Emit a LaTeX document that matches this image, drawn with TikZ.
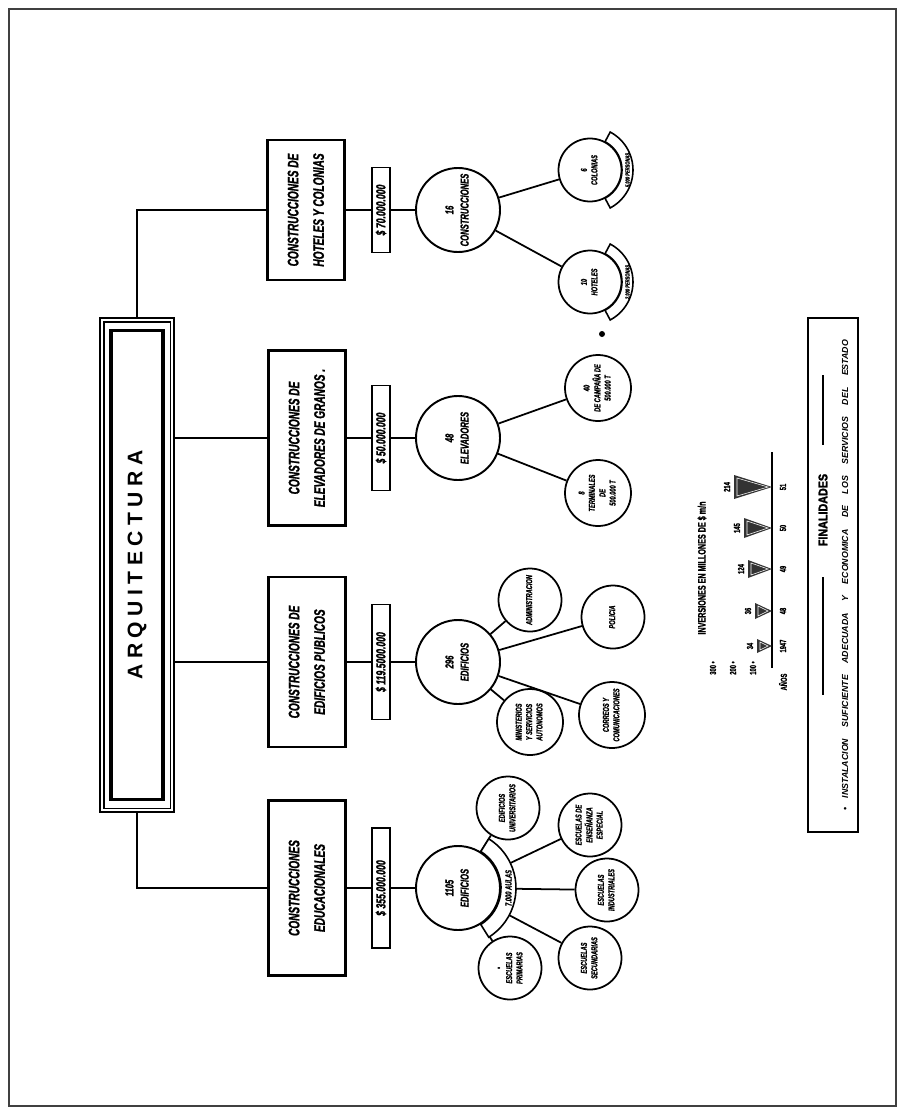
\documentclass[tikz,border=0pt]{standalone}
\usepackage{graphicx}
\usepackage{fontspec}
\setmainfont{Liberation Sans}
\newfontfamily\handfont{Liberation Sans}[FakeStretch=0.66, FakeBold=1.2]
\newfontfamily\headfont{Liberation Sans}[FakeStretch=0.85, FakeBold=2]
\newfontfamily\titlefont{Liberation Sans}[LetterSpace=26]
\usetikzlibrary{calc, positioning}

% vertical (rotated) multi-line text
\newcommand{\vtext}[1]{\rotatebox{90}{\begin{tabular}{@{}c@{}}#1\end{tabular}}}

\tikzset{
  catbox/.style={draw, line width=1.3pt, minimum width=15.4mm, inner sep=0pt,
    font=\handfont\bfseries\itshape\fontsize{8.7}{14.5}\selectfont},
  amtbox/.style={draw, line width=1.1pt, minimum width=3.6mm, inner sep=0pt,
    font=\handfont\bfseries\itshape\fontsize{7.5}{9}\selectfont},
  bigc/.style={circle, draw, line width=1.1pt, minimum size=16.8mm, inner sep=0pt},
  smallc/.style={circle, draw, line width=1pt, minimum size=12.6mm, inner sep=0pt},
  bigtxt/.style={inner sep=0pt, font=\handfont\bfseries\itshape\fontsize{6.6}{8.6}\selectfont},
  smalltxt/.style={inner sep=0pt, font=\handfont\bfseries\itshape\fontsize{4.9}{5.9}\selectfont},
  bandtxt/.style={inner sep=0pt, font=\handfont\bfseries\itshape\fontsize{3.5}{4}\selectfont},
  charttxt/.style={inner sep=0pt, font=\handfont\bfseries\fontsize{5}{6}\selectfont},
  band/.style={draw, fill=white, line width=0.9pt},
  link/.style={line width=1pt}
}

\begin{document}
\begin{tikzpicture}[x=0.2mm, y=-0.2mm]
\useasboundingbox (0,0) rectangle (905,1114);
\fill[white] (0,0) rectangle (905,1114);
\draw[line width=1.2pt, black!75] (9,9) rectangle (896,1106);

% main title block with its frames
\node[draw, line width=0.8pt, minimum width=14.8mm, minimum height=98.8mm, inner sep=0pt] (arq) at (137,565)
  {\rotatebox{90}{\titlefont\bfseries\fontsize{12}{14}\selectfont ARQUITECTURA}};
\draw[line width=0.8pt] ($(arq.south west)+(0.9mm,0.9mm)$) rectangle ($(arq.north east)-(0.9mm,0.9mm)$);
\draw[line width=2pt] ($(arq.south west)+(2.3mm,2.6mm)$) rectangle ($(arq.north east)-(2.3mm,2.6mm)$);

% first level
\node[catbox, minimum height=28mm] (hot) at (306,210) {\vtext{CONSTRUCCIONES DE\\HOTELES Y COLONIAS}};
\node[catbox, minimum height=35mm] (ele) at (307,438) {\vtext{CONSTRUCCIONES DE\\ELEVADORES DE GRANOS .}};
\node[catbox, minimum height=34mm] (pub) at (307,662) {\vtext{CONSTRUCCIONES DE\\EDIFICIOS PUBLICOS}};
\node[catbox, minimum height=35mm] (edu) at (307,888) {\vtext{CONSTRUCCIONES\\EDUCACIONALES}};

% amounts
\node[amtbox, minimum height=17mm] (hotamt) at (381,210) {\rotatebox{90}{\$ 70.000.000}};
\node[amtbox, minimum height=21mm] (eleamt) at (381,438) {\rotatebox{90}{\$ 50.000.000}};
\node[amtbox, minimum height=23mm] (pubamt) at (381,662) {\rotatebox{90}{\$ 119.5000.000}};
\node[amtbox, minimum height=24mm] (eduamt) at (381,888) {\rotatebox{90}{\$ 355.000.000}};

% totals
\node[bigc, label={[bigtxt]center:\vtext{16\\CONSTRUCCIONES}}] (hotbig) at (458,210) {};
\node[bigc, label={[bigtxt]center:\vtext{48\\ELEVADORES}}] (elebig) at (458,438) {};
\node[bigc, label={[bigtxt]center:\vtext{296\\EDIFICIOS}}] (pubbig) at (458,662) {};
\node[bigc, label={[bigtxt]center:\vtext{1105\\EDIFICIOS}}] (edubig) at (458,888) {};

% details
\node[smallc, label={[smalltxt]center:\vtext{6\\COLONIAS}}] (hotcol) at (590,170) {};
\node[smallc, label={[smalltxt]center:\vtext{10\\HOTELES}}] (hothot) at (590,282) {};

\node[smallc, minimum size=13.2mm, label={[smalltxt]center:\vtext{40\\DE CAMPAÑA DE\\500.000 T}}] (elecam) at (598,388) {};
\node[smallc, minimum size=13.2mm, label={[smalltxt]center:\vtext{8\\TERMINALES\\DE\\500.000 T}}] (eleter) at (598,493) {};

\node[smallc, label={[smalltxt]center:\vtext{ADMINISTRACION}}] (pubadm) at (530,600) {};
\node[smallc, label={[smalltxt]center:\vtext{POLICIA}}] (pubpol) at (613,617) {};
\node[smallc, minimum size=13.2mm, label={[smalltxt]center:\vtext{MINISTERIOS\\Y SERVICIOS\\AUTONOMOS}}] (pubmin) at (530,722) {};
\node[smallc, minimum size=13.2mm, label={[smalltxt]center:\vtext{CORREOS Y\\COMUNICACIONES}}] (pubcor) at (612,715) {};

\node[smallc, label={[smalltxt]center:\vtext{EDIFICIOS\\UNIVERSITARIOS}}] (eduuni) at (508,808) {};
\node[smallc, label={[smalltxt]center:\vtext{ESCUELAS DE\\ENSEÑANZA\\ESPECIAL}}] (eduesp) at (590,825) {};
\node[smallc, label={[smalltxt]center:\vtext{ESCUELAS\\INDUSTRIALES}}] (eduind) at (607,890) {};
\node[smallc, label={[smalltxt]center:\vtext{ESCUELAS\\SECUNDARIAS}}] (edusec) at (590,958) {};
\node[smallc, label={[smalltxt]center:\vtext{\textbullet\\ESCUELAS\\PRIMARIAS}}] (edupri) at (510,968) {};

% connections
\draw[link] (arq.north) |- (hot.west);
\draw[link] (arq.east |- ele.west) -- (ele.west);
\draw[link] (arq.east |- pub.west) -- (pub.west);
\draw[link] (arq.south) |- (edu.west);

\foreach \b in {hot, ele, pub, edu} {
  \draw[link] (\b) -- (\b amt);
  \draw[link] (\b amt) -- (\b big);
}
\foreach \c in {hotcol, hothot} \draw[link] (hotbig) -- (\c);
\foreach \c in {elecam, eleter} \draw[link] (elebig) -- (\c);
\foreach \c in {pubadm, pubpol, pubmin, pubcor} \draw[link] (pubbig) -- (\c);
\foreach \c in {eduuni, eduesp, eduind, edusec, edupri} \draw[link] (edubig) -- (\c);

% curved bands
\draw[band] ($(edubig)+(-58:43)$) arc[start angle=-58, end angle=58, radius=43]
  -- ($(edubig)+(58:58)$) arc[start angle=58, end angle=-58, radius=58] -- cycle;
\node[bandtxt, font=\handfont\bfseries\itshape\fontsize{5}{6}\selectfont] (aulas) at ($(edubig)+(50.5,0)$) {\rotatebox{90}{7.000 AULAS}};
\foreach \c/\t in {hotcol/5.000 PERSONAS, hothot/2.000 PERSONAS} {
  \draw[band] ($(\c)+(-62:32)$) arc[start angle=-62, end angle=62, radius=32]
    -- ($(\c)+(62:43)$) arc[start angle=62, end angle=-62, radius=43] -- cycle;
  \node[bandtxt] (\c band) at ($(\c)+(37.5,0)$) {\rotatebox{90}{\t}};
}
\fill (602,334) circle[radius=3];

% investment chart
\node[charttxt, font=\handfont\bfseries\fontsize{6.2}{7}\selectfont] (ctitle) at (702,568) {\rotatebox{90}{INVERSIONES EN MILLONES DE \$ m/n}};
\coordinate (c0) at (772,452);
\coordinate (c1) at (772,668);
\draw[line width=1.3pt] (c0) -- (c1);
\foreach \yy/\h/\w/\v/\yr in {646/15/7/34/1947, 611/17/8/36/48, 569/24/9/124/49, 528/28/10/145/50, 487/38/12/214/51} {
  \fill[black!80] (772,\yy) -- (772-\h,\yy-\w) -- (772-\h,\yy+\w) -- cycle;
  \draw[white, line width=0.3pt] (768,\yy) -- (772-\h+3,\yy-\w+3) -- (772-\h+3,\yy+\w-3) -- cycle;
  \node[charttxt] (v\yr) at (772-\h-7,\yy) {\rotatebox{90}{\v}};
  \node[charttxt] (y\yr) at (783,\yy) {\rotatebox{90}{\yr}};
}
\node[charttxt] (anos) at (783,682) {\rotatebox{90}{AÑOS}};
\foreach \xx/\t in {713/300, 733/200, 753/100}
  \node[charttxt] (tick\t) at (\xx,668) {\rotatebox{90}{\t\ \textbullet}};

% purposes
\node[draw, line width=1pt, minimum width=10mm, minimum height=102.8mm, inner sep=0pt] (fin) at (833,575) {};
\node[inner sep=0pt, font=\headfont\bfseries\fontsize{7.2}{8}\selectfont] (fintitle) at (823,510) {\rotatebox{90}{FINALIDADES}};
\draw[line width=0.8pt] (823,375) -- (823,445);
\draw[line width=0.8pt] (823,577) -- (823,695);
\node[inner sep=0pt, font=\bfseries\itshape\fontsize{5}{6}\selectfont] (finnote) at (845,575)
  {\rotatebox{90}{\makebox[94mm][s]{\textbullet\quad INSTALACION SUFICIENTE ADECUADA Y ECONOMICA DE LOS SERVICIOS DEL ESTADO}}};
\end{tikzpicture}
\end{document}
